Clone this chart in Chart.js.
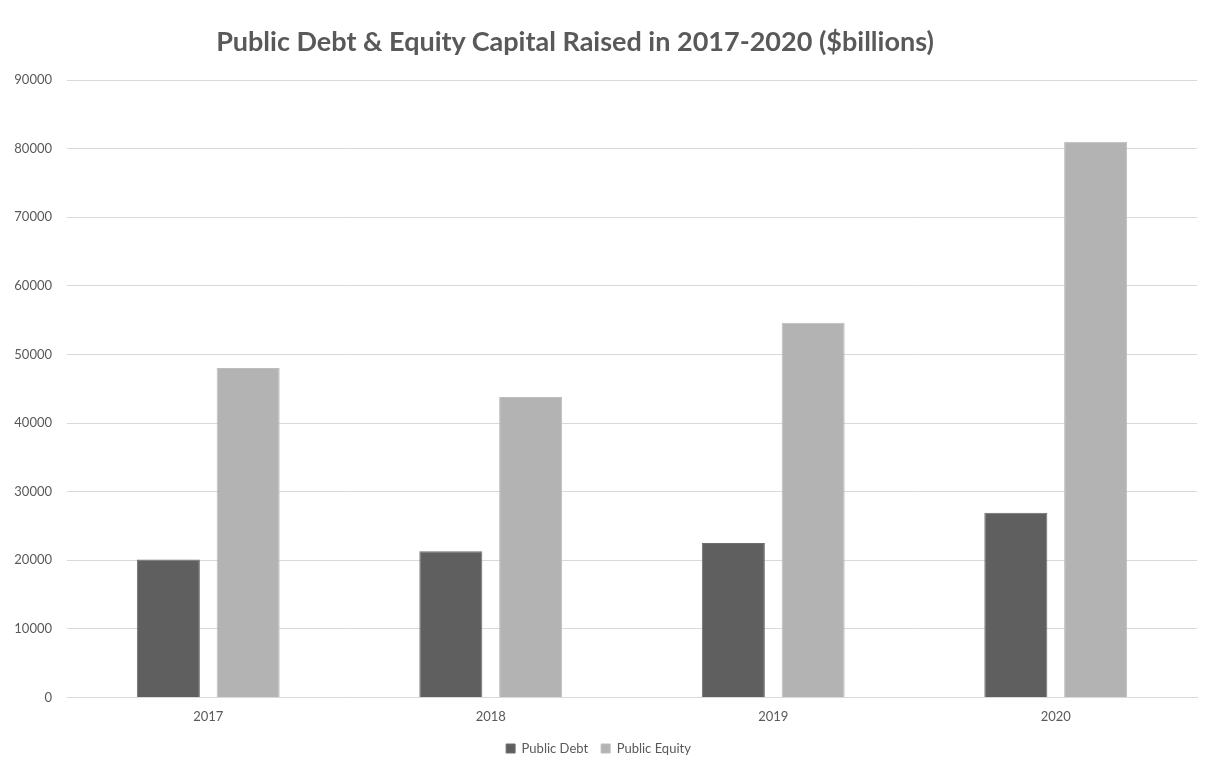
<!DOCTYPE html>
<html>
<head>
<meta charset="utf-8">
<script src="https://cdn.jsdelivr.net/npm/chart.js@4"></script>
<style>
  body { margin: 0; background: #fff; }
  #wrap { position: relative; width: 1206px; height: 765px; }
  #title {
    position: absolute; left: 0; top: 24px; width: 1150px;
    text-align: center; font: bold 27px Lato, sans-serif; color: #595959;
  }
</style>
</head>
<body>
<div id="wrap">
  <div id="title">Public Debt &amp; Equity Capital Raised in 2017-2020 ($billions)</div>
  <canvas id="canvas-1" width="1206" height="765"></canvas>
</div>
<script>
// data
var years = ['2017', '2018', '2019', '2020'];
var publicDebt = [20100, 21300, 22500, 26900];
var publicEquity = [48000, 43800, 54600, 81000];

var txt = '#595959';
var grid = '#d9d9d9';

var barChart = new Chart(document.getElementById('canvas-1'), {
  type: 'bar',
  data: {
    labels: years,
    datasets: [{
      label: 'Public Debt',
      data: publicDebt,
      backgroundColor: '#5f5f5f',
      borderColor: '#6e6e6e',
      borderWidth: 1
    }, {
      label: 'Public Equity',
      data: publicEquity,
      backgroundColor: '#b3b3b3',
      borderColor: '#bdbdbd',
      borderWidth: 1
    }]
  },
  options: {
    responsive: false,
    animation: false,
    categoryPercentage: 0.565,
    barPercentage: 0.79,
    layout: {
      padding: { left: 0, right: 9, top: 80, bottom: 0 }
    },
    plugins: {
      title: { display: false },
      tooltip: { enabled: false },
      legend: {
        position: 'bottom',
        labels: {
          boxWidth: 9,
          boxHeight: 9,
          padding: 13,
          color: txt,
          font: { family: 'Lato', size: 13 }
        }
      }
    },
    scales: {
      x: {
        grid: { display: false },
        border: { color: grid },
        ticks: { color: txt, font: { family: 'Lato', size: 13 }, padding: 4 }
      },
      y: {
        min: 0,
        max: 90000,
        afterFit: function (scale) { scale.width = 67; },
        grid: { color: grid, drawTicks: false },
        border: { display: false },
        ticks: {
          stepSize: 10000,
          color: txt,
          padding: 15,
          font: { family: 'Lato', size: 13 },
          callback: function (v) { return String(v); }
        }
      }
    }
  }
});
</script>
</body>
</html>
